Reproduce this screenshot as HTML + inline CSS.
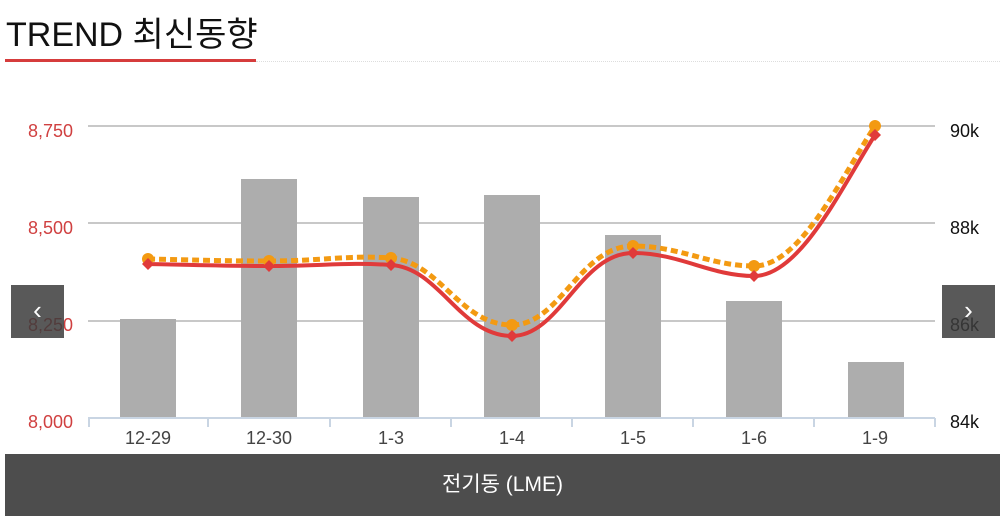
<!DOCTYPE html>
<html><head><meta charset="utf-8"><style>
body{margin:0;width:1008px;height:524px;background:#fff;font-family:"Liberation Sans","Noto Sans CJK KR",sans-serif;overflow:hidden;position:relative}
.t{position:absolute;left:6px;top:7px;font-size:34px;color:#111}
.ul{position:absolute;left:5px;top:59px;width:251px;height:3px;background:#d63c3c}
.ul2{position:absolute;left:256px;top:61px;width:744px;border-top:1px dotted #ddd}
.band{position:absolute;left:5px;top:454px;width:995px;height:62px;background:#4d4d4d;color:#fff;font-size:21px;text-align:center;line-height:62px}
.nav{position:absolute;top:285px;width:53px;height:53px;background:rgba(60,60,60,0.85);color:#fff;font-size:26px;text-align:center;line-height:50px}
</style></head><body>
<div class="t">TREND 최신동향</div><div class="ul"></div><div class="ul2"></div>
<svg width="1008" height="524" style="position:absolute;left:0;top:0">
<g stroke="#c8c8c8" stroke-width="2"><line x1="88" y1="126" x2="935" y2="126"/><line x1="88" y1="223" x2="935" y2="223"/><line x1="88" y1="321" x2="935" y2="321"/></g>
<g fill="#adadad">
<rect x="120" y="319" width="56" height="98"/><rect x="241" y="179" width="56" height="238"/><rect x="363" y="197" width="56" height="220"/><rect x="484" y="195" width="56" height="222"/><rect x="605" y="235" width="56" height="182"/><rect x="726" y="301" width="56" height="116"/><rect x="848" y="362" width="56" height="55"/></g>
<g stroke="#c9d5e3" stroke-width="2"><line x1="88" y1="418" x2="935" y2="418"/>
<line x1="89" y1="418" x2="89" y2="427"/><line x1="208" y1="418" x2="208" y2="427"/><line x1="330" y1="418" x2="330" y2="427"/><line x1="451" y1="418" x2="451" y2="427"/><line x1="572" y1="418" x2="572" y2="427"/><line x1="693" y1="418" x2="693" y2="427"/><line x1="814" y1="418" x2="814" y2="427"/><line x1="935" y1="418" x2="935" y2="427"/></g>
<path d="M148,259 C200,260 220,261 269,261 C320,261 350,255 391,258 C440,262 460,325 512,325 C560,325 580,246 633,246 C680,246 710,266 754,266 C800,266 840,180 875,126" fill="none" stroke="#f39a12" stroke-width="5" stroke-dasharray="7,4"/>
<path d="M148,264 C200,265 220,266 269,266 C320,266 350,262 391,265 C440,268 460,336 512,336 C560,336 580,253 633,253 C680,253 710,276 754,276 C800,276 840,190 875,135" fill="none" stroke="#e03a3a" stroke-width="4"/>
<g fill="#f39a12"><circle cx="148" cy="259" r="6"/><circle cx="269" cy="261" r="6"/><circle cx="391" cy="258" r="6"/><circle cx="512" cy="325" r="6"/><circle cx="633" cy="246" r="6"/><circle cx="754" cy="266" r="6"/><circle cx="875" cy="126" r="6"/></g>
<g fill="#e03a3a"><path d="M148,258l6,6l-6,6l-6,-6z"/><path d="M269,260l6,6l-6,6l-6,-6z"/><path d="M391,259l6,6l-6,6l-6,-6z"/><path d="M512,330l6,6l-6,6l-6,-6z"/><path d="M633,247l6,6l-6,6l-6,-6z"/><path d="M754,270l6,6l-6,6l-6,-6z"/><path d="M875,129l6,6l-6,6l-6,-6z"/></g>
<g font-size="18" fill="#d04040" text-anchor="end"><text x="73" y="137">8,750</text><text x="73" y="234">8,500</text><text x="73" y="331">8,250</text><text x="73" y="428">8,000</text></g>
<g font-size="18" fill="#111"><text x="950" y="137">90k</text><text x="950" y="234">88k</text><text x="950" y="331">86k</text><text x="950" y="428">84k</text></g>
<g font-size="18" fill="#444" text-anchor="middle"><text x="148" y="444">12-29</text><text x="269" y="444">12-30</text><text x="391" y="444">1-3</text><text x="512" y="444">1-4</text><text x="633" y="444">1-5</text><text x="754" y="444">1-6</text><text x="875" y="444">1-9</text></g>
</svg>
<div class="nav" style="left:11px">‹</div><div class="nav" style="left:942px">›</div>
<div class="band">전기동 (LME)</div>
</body></html>
